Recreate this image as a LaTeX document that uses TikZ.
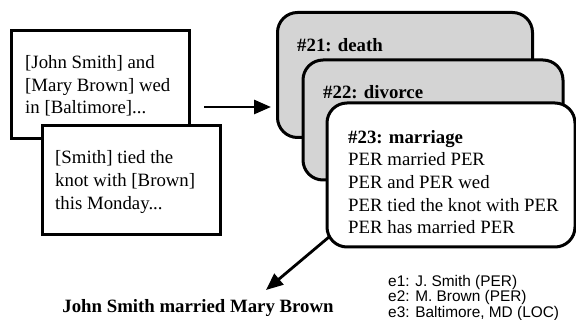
\documentclass[tikz,border=0pt]{standalone}
\usepackage{fontspec}
\setmainfont{Liberation Serif}
\newfontfamily\arialfont{Liberation Sans}
\usetikzlibrary{arrows.meta}
\definecolor{cardgray}{HTML}{D4D4D4}
\tikzset{
  sqbox/.style={draw=black, line width=3pt, fill=white, rectangle, inner sep=0pt},
  card/.style={draw=black, line width=3pt, rectangle, rounded corners=20pt, inner sep=0pt},
  txt/.style={inner sep=0pt, align=left, font=\fontsize{18.8}{22.6}\selectfont},
  etxt/.style={inner sep=0pt, align=left, font=\arialfont\fontsize{15.4}{15.4}\selectfont},
  bigarrow/.style={line width=2.8pt, -{Triangle[length=17pt,width=14pt]}},
}
\begin{document}
\begin{tikzpicture}[x=1pt,y=-1pt]
\useasboundingbox (0,0) rectangle (576,320);
% left boxes
\node[sqbox, minimum width=178pt, minimum height=108pt] (boxa) at (100,85) {};
\node[txt, anchor=west] (texta) at (25,86) {[John Smith] and\\\relax[Mary Brown] wed\\in [Baltimore]...};
\node[sqbox, minimum width=178pt, minimum height=109pt] (boxb) at (131,180.5) {};
\node[txt, anchor=west] (textb) at (55,182) {[Smith] tied the\\knot with [Brown]\\this Monday...};
% cards
\node[card, fill=cardgray, minimum width=255pt, minimum height=125pt] (c21) at (405,75) {};
\node[txt, anchor=west, font=\fontsize{18.8}{22.6}\selectfont\bfseries] (t21) at (297,45) {\#21: death};
\node[card, fill=cardgray, minimum width=260pt, minimum height=120pt] (c22) at (433,120) {};
\node[txt, anchor=west, font=\fontsize{18.8}{22.6}\selectfont\bfseries] (t22) at (323,92) {\#22: divorce};
\node[card, fill=white, minimum width=248pt, minimum height=144pt] (c23) at (451,175) {};
\node[txt, anchor=west] (t23) at (348,182) {\textbf{\#23: marriage}\\PER married PER\\PER and PER wed\\PER tied the knot with PER\\PER has married PER};
% arrows
\coordinate (a1s) at (204,107);
\coordinate (a1e) at (271,107);
\draw[bigarrow] (a1s) -- (a1e);
\coordinate (a2s) at (329,237);
\coordinate (a2e) at (266,290);
\draw[bigarrow] (a2s) -- (a2e);
% output
\node[inner sep=0pt, font=\fontsize{18.8}{22.6}\selectfont\bfseries] (result) at (198,308) {John Smith married Mary Brown};
\node[etxt, anchor=west] (ents) at (388,298) {e1: J. Smith (PER)\\e2: M. Brown (PER)\\e3: Baltimore, MD (LOC)};
\end{tikzpicture}
\end{document}
